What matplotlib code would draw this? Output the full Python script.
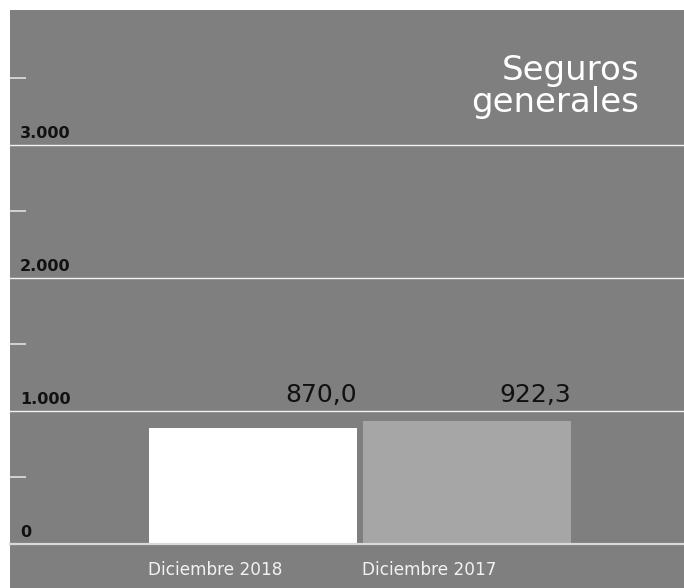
import matplotlib.pyplot as plt
from matplotlib.patches import Rectangle
from matplotlib.transforms import blended_transform_factory

# datos
categorias = ['Diciembre 2018', 'Diciembre 2017']
valores = [870.0, 922.3]
etiquetas_valor = ['870,0', '922,3']
colores = ['#ffffff', '#a6a6a6']
ticks_y = [0, 1000, 2000, 3000]
ticks_y_txt = ['0', '1.000', '2.000', '3.000']
ticks_menores = [500, 1500, 2500, 3500]
titulo = 'Seguros\ngenerales'

plt.rcParams['font.family'] = ['DejaVu Sans']

W, H = 684, 588
fig = plt.figure(figsize=(W / 100, H / 100), dpi=100)
fig.patch.set_facecolor('white')
# fondo gris (deja franja blanca arriba y a la izquierda)
fig.patches.append(Rectangle((10 / W, 0), 1 - 10 / W, (H - 10) / H,
                             transform=fig.transFigure, facecolor='#7f7f7f',
                             edgecolor='none', zorder=-10))

ax = fig.add_axes([10 / W, (H - 544) / H, 1 - 10 / W, (544 - 10) / H])
ax.set_facecolor('none')
for s in ax.spines.values():
    s.set_visible(False)

x = [0, 1]
ancho = 0.972
ax.bar(x, valores, width=ancho, color=colores, zorder=2)
ax.set_xlim(-1.136, 2.014)
ax.set_ylim(0, 4015)

# lineas de cuadricula
for v in ticks_y:
    if v == 0:
        ax.axhline(v, color='#d9d9d9', lw=1.6, zorder=3, clip_on=False)
    else:
        ax.axhline(v, color='#f2f2f2', lw=1.0, zorder=1)

ax.set_xticks([])
ax.set_yticks([])
ax.set_yticks(ticks_menores, minor=True)
ax.tick_params(axis='y', which='minor', direction='in', length=11.5, width=1.3,
               color='#d9d9d9', labelleft=False)

tr = blended_transform_factory(ax.transAxes, ax.transData)
for v, t in zip(ticks_y, ticks_y_txt):
    ax.text(10 / 674, v + 28, t, transform=tr, ha='left', va='bottom',
            fontsize=11.5, fontweight='bold', color='#111111')

# etiquetas de valor (alineadas al borde derecho de la barra)
for xi, t in zip(x, etiquetas_valor):
    ax.text(xi + ancho / 2, 1030, t, ha='right', va='bottom',
            fontsize=18, color='#111111')

# etiquetas de categoria debajo
for xi, c in zip(x, categorias):
    ax.annotate(c, (xi - ancho / 2, 0), xytext=(-1, -19), textcoords='offset points',
                ha='left', va='center', fontsize=12.2, color='#f2f2f2',
                annotation_clip=False)

fig.text(639 / W, (H - 54) / H, titulo, ha='right', va='top', fontsize=24.5,
         color='white', linespacing=0.95)

fig.savefig('out.png', dpi=100, facecolor=fig.get_facecolor())
